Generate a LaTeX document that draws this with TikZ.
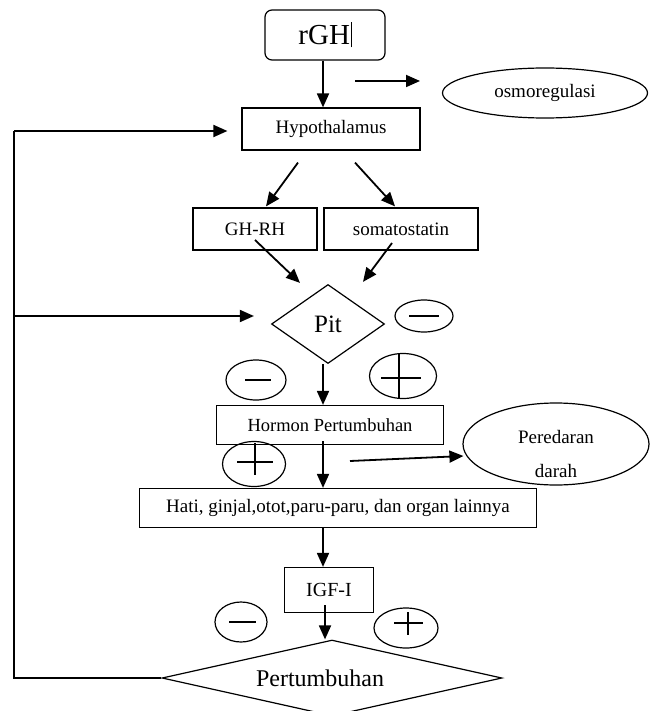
\documentclass[tikz,border=0pt]{standalone}
\usepackage{fontspec}
\setmainfont{Liberation Serif}
\usetikzlibrary{shapes.geometric,arrows.meta,calc}
\begin{document}
\begin{tikzpicture}[x=1pt,y=-1pt,
  box/.style={draw, line width=1.2pt, inner sep=0pt, font=\fontsize{19}{22}\selectfont},
  oval/.style={draw, ellipse, line width=1.2pt, inner sep=0pt},
  dia/.style={draw, diamond, line width=1.2pt, inner sep=0pt},
  arr/.style={line width=1.8pt, -{Triangle[length=14pt,width=12pt]}},
  sign/.style={line width=1.2pt},
  fb/.style={line width=1.5pt}]
\useasboundingbox (0,0) rectangle (650,711);

% boxes
\node[box, rounded corners=7pt, minimum width=120pt, minimum height=50pt,
      font=\fontsize{29}{32}\selectfont] (rgh) at (325,35) {rGH\kern1pt\rule[-3pt]{0.5pt}{25pt}};
\node[box, minimum width=178pt, minimum height=42pt] (hyp) at (331,129) {Hypothalamus};
\node[oval, minimum width=205pt, minimum height=50pt, font=\fontsize{19}{22}\selectfont] (osmo) at (545,93) {osmoregulasi};
\node[box, minimum width=124pt, minimum height=42pt] (ghrh) at (255,229) {GH-RH};
\node[box, minimum width=154pt, minimum height=42pt] (soma) at (401,229) {somatostatin};
\node[dia, minimum width=113pt, minimum height=79pt, aspect=1.43,
      font=\fontsize{25}{28}\selectfont] (pit) at (328,324) {Pit};
\node[box, minimum width=227pt, minimum height=39pt, font=\fontsize{18.5}{22}\selectfont] (horm) at (330,425) {Hormon Pertumbuhan};
\node[box, minimum width=397pt, minimum height=39pt] (hati) at (338,508) {Hati, ginjal,otot,paru-paru, dan organ lainnya};
\node[oval, minimum width=186pt, minimum height=82pt,
      label={[align=center, font=\fontsize{19}{34}\selectfont, yshift=-10pt]center:Peredaran\\darah}] (pered) at (556,444) {};
\node[box, minimum width=89pt, minimum height=45pt, font=\fontsize{20}{24}\selectfont] (igf) at (329,590) {IGF-I};
\node[dia, minimum width=340pt, minimum height=76pt, aspect=4.47,
      font=\fontsize{24}{28}\selectfont] (pert) at (332,678) {Pertumbuhan\rule{24pt}{0pt}};

% sign ovals
\node[oval, minimum width=58pt, minimum height=32pt] (m1) at (424,316) {};
\node[oval, minimum width=60pt, minimum height=40pt] (m2) at (256,380) {};
\node[oval, minimum width=67pt, minimum height=45pt] (p1) at (403,376) {};
\node[oval, minimum width=63pt, minimum height=45pt] (p2) at (254,464) {};
\node[oval, minimum width=52pt, minimum height=40pt] (m3) at (241,622) {};
\node[oval, minimum width=64pt, minimum height=40pt] (p3) at (406,628) {};

\draw[sign] ($(m1)+(-15,0)$) -- ($(m1)+(15,0)$);
\draw[sign] ($(m2)+(-11,0)$) -- ($(m2)+(15,0)$);
\draw[sign] ($(m3)+(-12,0)$) -- ($(m3)+(15,0)$);
\draw[sign] ($(p1)+(-22,2)$) -- ($(p1)+(18,2)$);
\draw[sign] ($(p1)+(-4,-22)$) -- ($(p1)+(-4,22)$);
\draw[sign] ($(p2)+(-17,-2)$) -- ($(p2)+(19,-2)$);
\draw[sign] ($(p2)+(1,-21)$) -- ($(p2)+(1,11)$);
\draw[sign] ($(p3)+(-12,-5)$) -- ($(p3)+(17,-5)$);
\draw[sign] ($(p3)+(2,-16)$) -- ($(p3)+(2,7)$);

% free ends
\coordinate (o1) at (355,81);
\coordinate (o2) at (420,81);
\coordinate (pr) at (350,461);
\coordinate (c1) at (14,678);
\coordinate (c2) at (14,131);
\coordinate (c3) at (14,316);

% connectors
\draw[arr] ($(rgh.south)+(-2,0)$) -- ($(hyp.north)+(-8,0)$);
\draw[arr] (o1) -- (o2);
\draw[arr] ($(hyp.south)+(-33,12)$) -- ($(ghrh.north)+(11,-1)$);
\draw[arr] ($(hyp.south)+(24,12)$) -- ($(soma.north)+(-6,-1)$);
\draw[arr] ($(ghrh.center)+(0,11)$) -- ($(pit.north)+(-28,-1)$);
\draw[arr] ($(soma.center)+(-9,14)$) -- ($(pit.north)+(35,-2)$);
\draw[arr] ($(pit.south)+(-5,0)$) -- ($(horm.north)+(-7,0)$);
\draw[arr] ($(horm.south)+(-7,-4)$) -- ($(hati.north)+(-15,0)$);
\draw[arr] (pr) -- ($(pered.west)+(1,12)$);
\draw[arr] ($(hati.south)+(-15,0)$) -- ($(igf.north)+(-6,0)$);
\draw[arr] ($(igf.south)+(-4,-8)$) -- ($(pert.north)+(-7,0)$);

% feedback
\draw[fb] (pert.west) -- (c1) -- (c2);
\draw[arr] (c2) -- ($(hyp.west)+(-14,2)$);
\draw[arr] (c3) -- ($(pit.west)+(-17,-8)$);
\end{tikzpicture}
\end{document}
